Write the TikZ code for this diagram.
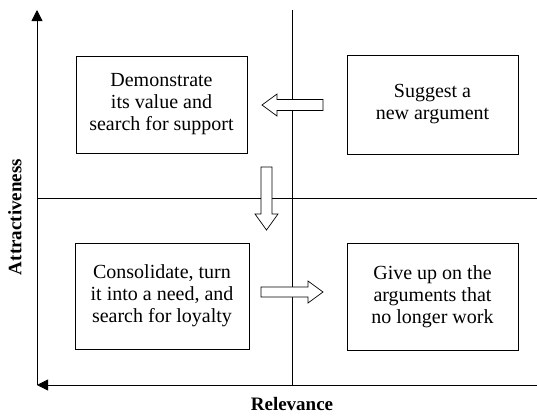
\documentclass[tikz,border=0pt]{standalone}
\usepackage{fontspec}
\setmainfont{Liberation Serif}
\usetikzlibrary{arrows.meta}
\begin{document}
\begin{tikzpicture}[x=1pt,y=-1pt,
  line width=0.8pt,
  quad/.style={draw, align=center, font=\fontsize{20}{22}\selectfont, inner sep=0pt},
  move/.style={draw, line width=0.7pt, line join=miter},
  axislabel/.style={font=\bfseries\fontsize{19}{20}\selectfont},
  axisarrow/.style={-{Triangle[length=11pt,width=11pt]}}]
\useasboundingbox (0,0) rectangle (537,416);
% axes
\coordinate (origin) at (37,385);
\coordinate (ytop) at (37,10);
\coordinate (xend) at (537,385);
\draw[axisarrow] (origin) -- (ytop);
\draw[axisarrow] (xend) -- (origin);
% quadrant dividers
\coordinate (vtop) at (292,10);
\coordinate (vbot) at (292,385);
\coordinate (hleft) at (37,198);
\coordinate (hright) at (537,198);
\draw (vtop) -- (vbot);
\draw (hleft) -- (hright);
% quadrants
\node[quad, minimum width=171pt, minimum height=97pt] (tl) at (161.5,104.5)
  {Demonstrate\\its value and\\search for support};
\node[quad, minimum width=171pt, minimum height=99pt] (tr) at (432.5,104.5)
  {Suggest a\\new argument};
\node[quad, minimum width=174pt, minimum height=106pt] (bl) at (162,296)
  {Consolidate, turn\\it into a need, and\\search for loyalty};
\node[quad, minimum width=171pt, minimum height=107pt] (br) at (432.5,296.5)
  {Give up on the\\arguments that\\no longer work};
% transitions between quadrants (hollow block arrows)
\draw[move, fill=white] (323,99.5) -- (277,99.5) -- (277,94) -- (262,105)
  -- (277,116) -- (277,110.5) -- (323,110.5) -- cycle;
\draw[move, fill=white] (261,167) -- (261,214) -- (255,214) -- (266.5,230)
  -- (278,214) -- (272,214) -- (272,167) -- cycle;
\draw[move, fill=white] (261,287) -- (308,287) -- (308,281) -- (323,292)
  -- (308,303) -- (308,297) -- (261,297) -- cycle;
% axis labels
\node[axislabel] (xlab) at (292,404) {Relevance};
\node[axislabel, rotate=90] (ylab) at (15,217) {Attractiveness};
\end{tikzpicture}
\end{document}
